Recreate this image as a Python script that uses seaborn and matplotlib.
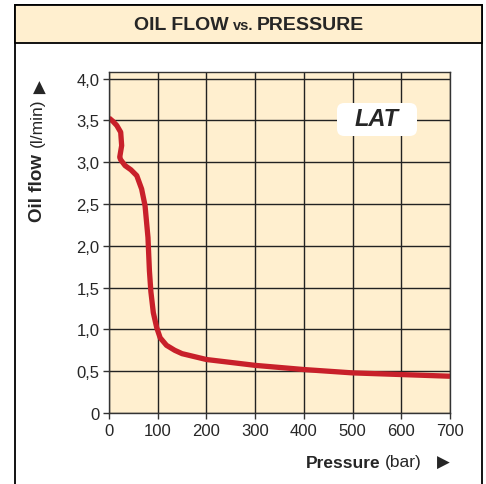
import matplotlib
matplotlib.use("Agg")
import matplotlib.pyplot as plt
from matplotlib.patches import Rectangle, FancyBboxPatch
import seaborn as sns
import pandas as pd

# curve
pressure = [0, 8, 16, 24, 26, 22, 24, 33, 45, 57, 67, 74, 80, 83, 86, 91, 98, 105, 118, 135, 150, 200, 300, 400, 500, 600, 700]
flow = [3.53, 3.49, 3.44, 3.36, 3.20, 3.06, 3.03, 2.96, 2.91, 2.84, 2.68, 2.48, 2.10, 1.70, 1.45, 1.20, 1.02, 0.90, 0.81, 0.75, 0.71, 0.64, 0.57, 0.52, 0.48, 0.46, 0.44]

x_ticks = [0, 100, 200, 300, 400, 500, 600, 700]
y_ticks = [0, 0.5, 1.0, 1.5, 2.0, 2.5, 3.0, 3.5, 4.0]
y_labels = ["0", "0,5", "1,0", "1,5", "2,0", "2,5", "3,0", "3,5", "4,0"]

cream = "#FFEFCF"
red = "#C8202A"

sns.set_style("ticks", {"axes.facecolor": cream, "axes.edgecolor": "#333333"})
plt.rcParams["font.family"] = ["Liberation Sans", "DejaVu Sans"]

W, H = 486, 485
fig = plt.figure(figsize=(4.86, 4.85), dpi=100)


def px(x, y):
    return x / W, 1 - y / H


# outer frame and title band
fig.patches.append(Rectangle((15 / W, -0.02), 467 / W, 1.02 - 6 / H, transform=fig.transFigure,
                             facecolor="white", edgecolor="black", lw=1.3, zorder=0))
fig.patches.append(Rectangle(px(15, 44), 467 / W, 38 / H, transform=fig.transFigure,
                             facecolor=cream, edgecolor="black", lw=1.3, zorder=1))

# title pieces, laid out from the left after measuring
t1 = fig.text(*px(138, 25), "OIL FLOW", ha="left", va="center", fontsize=14, fontweight="bold")
t2 = fig.text(*px(0, 26.5), "vs.", ha="left", va="center", fontsize=10.5, fontweight="bold")
t3 = fig.text(*px(0, 25), "PRESSURE", ha="left", va="center", fontsize=14, fontweight="bold")
fig.canvas.draw()
r = fig.canvas.get_renderer()
w1 = t1.get_window_extent(r).width
w2 = t2.get_window_extent(r).width
w3 = t3.get_window_extent(r).width
start = 249 - (w1 + w2 + w3 + 8) / 2
t1.set_x(start / W)
t2.set_x((start + w1 + 4) / W)
t3.set_x((start + w1 + w2 + 8) / W)

ax = fig.add_axes([109 / W, 1 - 414 / H, 341 / W, 341 / H], zorder=3)
df = pd.DataFrame({"pressure": pressure, "flow": flow})
ax.plot(df["pressure"], df["flow"], color=red, lw=3.8, solid_capstyle="butt",
        solid_joinstyle="round", zorder=3)

ax.set_xlim(0, 700)
ax.set_ylim(0, 4.08)
ax.set_xticks(x_ticks)
ax.set_xticklabels([str(v) for v in x_ticks])
ax.set_yticks(y_ticks)
ax.set_yticklabels(y_labels)
ax.tick_params(labelsize=12, length=4, width=1, color="#333333", pad=3)
ax.grid(True, color="#222222", lw=1)
ax.set_axisbelow(True)
for s in ax.spines.values():
    s.set_linewidth(1)
    s.set_zorder(4)
ax.set_xlabel("")
ax.set_ylabel("")

# axis titles
fig.text(*px(380, 463), "Pressure", ha="right", va="center", fontsize=12.5, fontweight="bold")
fig.text(*px(385, 463), "(bar)", ha="left", va="center", fontsize=12.5)
fig.text(*px(443, 463), "▶", ha="center", va="center", fontsize=12, family=["DejaVu Sans"])
fig.text(*px(37, 222), "Oil flow", ha="center", va="bottom", rotation=90, fontsize=13.5,
         fontweight="bold")
fig.text(*px(37, 147), "(l/min)", ha="center", va="bottom", rotation=90, fontsize=12.5)
fig.text(*px(39, 88), "▲", ha="center", va="center", fontsize=12, family=["DejaVu Sans"])

# LAT badge
badge = FancyBboxPatch(px(337, 137), 80 / W, 33 / H, transform=fig.transFigure,
                       boxstyle="round,pad=0,rounding_size=0.015", facecolor="white", edgecolor="none", zorder=5)
ax.add_artist(badge)
ax.text(*px(377, 120), "LAT", transform=fig.transFigure, ha="center", va="center", fontsize=17,
        fontweight="bold", style="italic", zorder=6)

fig.savefig("out.png", dpi=100)
